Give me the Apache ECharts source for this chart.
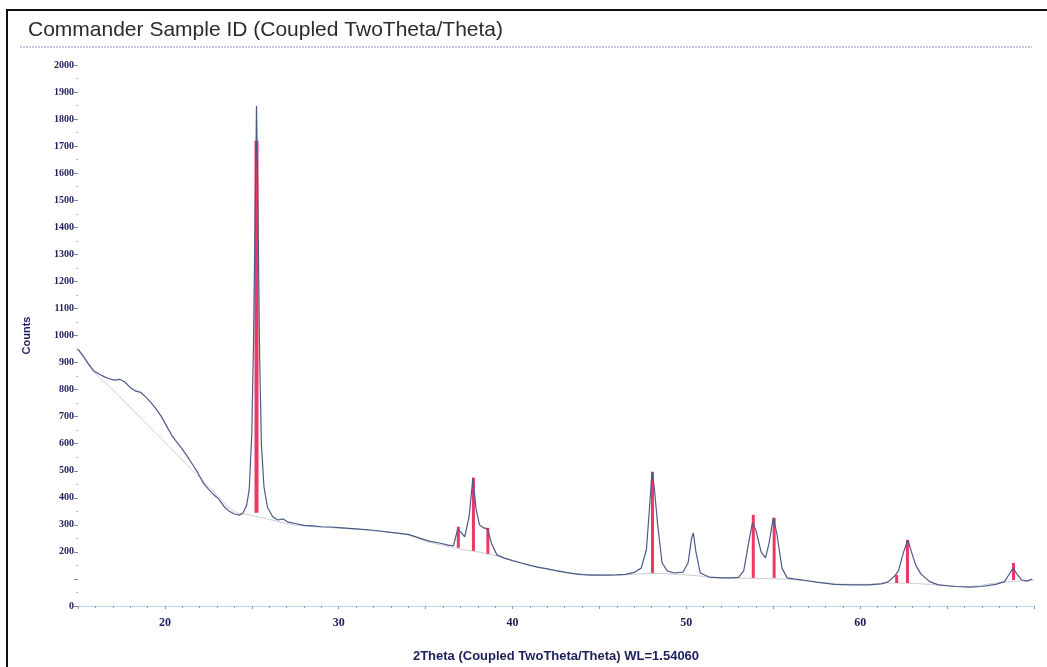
<!DOCTYPE html>
<html>
<head>
<meta charset="utf-8">
<script src="https://cdn.jsdelivr.net/npm/echarts@6/dist/echarts.min.js"></script>
<style>
  html, body { margin: 0; padding: 0; background: #fff; }
  #xrd { width: 1047px; height: 667px; }
</style>
</head>
<body>
<div id="xrd"></div>
<script>
// measured scan (2theta, counts)
var twoTheta = [15.0, 15.3, 15.6, 15.9, 16.2, 16.5, 16.8, 17.1, 17.4, 17.7, 18.0, 18.3, 18.6, 18.9, 19.2, 19.5, 19.8,
  20.1, 20.4, 20.7, 21.0, 21.3, 21.6, 21.9, 22.2, 22.5, 22.8, 23.1, 23.4, 23.7, 24.0, 24.3, 24.5, 24.7, 24.85,
  25.0, 25.1, 25.2, 25.27, 25.35, 25.45, 25.55, 25.7, 25.9, 26.2, 26.5, 26.8, 27.1, 27.5, 28.0, 28.5, 29.0, 29.5,
  30.0, 31.0, 32.0, 33.0, 34.0, 34.7, 35.2, 35.8, 36.3, 36.6, 36.85, 37.0, 37.25, 37.5, 37.72, 37.9, 38.1, 38.3,
  38.55, 38.8, 39.1, 39.5, 40.0, 40.5, 41.0, 41.5, 42.0, 42.5, 43.0, 43.5, 44.0, 44.5, 45.0, 45.5, 46.0, 46.5,
  47.0, 47.4, 47.7, 47.9, 48.02, 48.15, 48.35, 48.6, 48.9, 49.3, 49.8, 50.1, 50.3, 50.4, 50.55, 50.8, 51.3, 52.0,
  52.5, 53.0, 53.3, 53.6, 53.8, 54.0, 54.3, 54.55, 54.75, 55.0, 55.2, 55.5, 55.8, 56.2, 56.7, 57.5, 58.5, 59.5,
  60.5, 61.2, 61.6, 62.0, 62.2, 62.5, 62.75, 62.95, 63.2, 63.5, 64.0, 64.5, 65.5, 66.3, 67.0, 67.8, 68.3, 68.6,
  68.8, 69.0, 69.3, 69.6, 69.9];
var counts = [950, 925, 895, 870, 858, 848, 840, 835, 838, 828, 808, 795, 790, 772, 752, 728, 700,
  665, 630, 605, 580, 552, 522, 492, 456, 432, 412, 395, 368, 350, 340, 336, 345, 372, 430,
  640, 980, 1500, 1848, 1480, 920, 600, 440, 365, 330, 318, 322, 310, 305, 298, 296, 293, 292,
  290, 285, 280, 272, 265, 250, 240, 233, 225, 222, 285, 275, 256, 330, 474, 360, 300, 290,
  285, 230, 189, 178, 168, 159, 150, 143, 137, 131, 125, 120, 116, 114, 114, 114, 115, 117,
  124, 140, 207, 380, 496, 440, 300, 160, 130, 122, 125, 160, 250, 270, 200, 122, 107, 104,
  104, 106, 130, 240, 307, 280, 200, 178, 230, 326, 270, 140, 104, 100, 96, 88, 80, 78,
  78, 82, 89, 112, 130, 200, 244, 200, 150, 118, 90, 78, 72, 70, 72, 80, 90, 120,
  140, 120, 96, 92, 100];

// fitted background
var bgTheta = [15.0, 15.9, 17.0, 18.0, 19.0, 20.0, 21.0, 22.0, 23.0, 24.0, 25.0, 26.0, 27.0, 28.0, 30.0, 32.0,
  34.0, 35.0, 36.0, 37.0, 38.0, 39.0, 40.0, 42.0, 44.0, 46.0, 48.0, 50.0, 52.0, 54.0, 56.0, 58.0, 60.0,
  62.0, 64.0, 66.0, 68.0, 70.0];
var bgCounts = [948, 867, 800, 735, 670, 605, 540, 475, 410, 350, 335, 320, 305, 296, 288, 278,
  262, 240, 224, 210, 200, 186, 168, 137, 118, 115, 120, 115, 104, 102, 98, 85, 80,
  85, 80, 72, 86, 96];

// reference peak sticks
var stickPos = [25.27, 36.88, 37.75, 38.58, 48.05, 53.85, 55.05, 62.1, 62.72, 68.82];
var stickBase = [345, 215, 204, 193, 122, 104, 104, 85, 85, 96];
var stickTop = [1720, 293, 474, 289, 496, 337, 326, 115, 244, 159];

var scanData = twoTheta.map(function (t, i) { return [t, counts[i]]; });
var bgData = bgTheta.map(function (t, i) { return [t, bgCounts[i]]; });
var stickData = stickPos.map(function (t, i) { return [t, stickBase[i], stickTop[i]]; });

var chart = echarts.init(document.getElementById('xrd'));

var option = {
  animation: false,
  backgroundColor: '#fff',
  title: {
    text: 'Commander Sample ID (Coupled TwoTheta/Theta)',
    left: 23,
    top: 15,
    textStyle: { fontFamily: 'Liberation Sans', fontSize: 21, fontWeight: 'normal', color: '#2b2b2b' }
  },
  graphic: [
    { type: 'rect', shape: { x: 7, y: 10, width: 1100, height: 700 }, style: { fill: 'none', stroke: '#111', lineWidth: 2 }, silent: true },
    { type: 'line', shape: { x1: 20, y1: 47, x2: 1032, y2: 47 }, style: { stroke: '#8a93c8', lineWidth: 1, lineDash: [2, 1] }, silent: true }
  ],
  grid: { left: 78, right: 13, top: 65, bottom: 61, outerBoundsMode: 'none' },
  xAxis: {
    type: 'value',
    min: 15,
    max: 70,
    interval: 5,
    name: '2Theta (Coupled TwoTheta/Theta) WL=1.54060',
    nameLocation: 'middle',
    nameGap: 44,
    nameTextStyle: { fontFamily: 'Liberation Sans', fontSize: 13, fontWeight: 'bold', color: '#1c1f5a', letterSpacing: 1 },
    axisLine: { lineStyle: { color: '#a9cde6', type: 'dotted', width: 1 } },
    axisTick: { length: 3, lineStyle: { color: '#8b9bb8' } },
    minorTick: { show: true, splitNumber: 5, length: 2, lineStyle: { color: '#8b9bb8' } },
    axisLabel: {
      fontFamily: 'Liberation Serif', fontSize: 12, fontWeight: 'bold', color: '#1c1f5a', margin: 11,
      formatter: function (v) { return (v % 10 === 0 && v < 70) ? String(v) : ''; }
    },
    splitLine: { show: false }
  },
  yAxis: {
    type: 'value',
    min: 0,
    max: 2000,
    interval: 100,
    name: 'Counts',
    nameLocation: 'middle',
    nameGap: 46,
    nameRotate: 90,
    nameTextStyle: { fontFamily: 'Liberation Sans', fontSize: 11, fontWeight: 'bold', color: '#1c1f5a' },
    axisLine: { show: false },
    axisTick: { show: true, length: 4, lineStyle: { color: '#7f8aa8' } },
    minorTick: { show: true, splitNumber: 2, length: 2, lineStyle: { color: '#b0b8cc' } },
    axisLabel: {
      fontFamily: 'Liberation Serif', fontSize: 10, fontWeight: 'bold', color: '#1c1f5a', margin: 4,
      formatter: function (v) { return v === 100 ? '' : String(v); }
    },
    splitLine: { show: false }
  },
  series: [
    {
      name: 'Background',
      type: 'line',
      data: bgData,
      showSymbol: false,
      smooth: true,
      lineStyle: { color: '#c9ccd2', width: 1 },
      z: 1
    },
    {
      name: 'Sticks',
      type: 'custom',
      data: stickData,
      renderItem: function (params, api) {
        var p0 = api.coord([api.value(0), api.value(1)]);
        var p1 = api.coord([api.value(0), api.value(2)]);
        return {
          type: 'line',
          shape: { x1: p0[0], y1: p0[1], x2: p1[0], y2: p1[1] },
          style: { stroke: '#ee3763', lineWidth: params.dataIndex === 0 ? 4 : 3 }
        };
      },
      z: 2
    },
    {
      name: 'Scan',
      type: 'line',
      data: scanData,
      showSymbol: false,
      lineStyle: { color: '#4c5a88', width: 1.2 },
      z: 3
    }
  ]
};

chart.setOption(option);

window.addEventListener('resize', function () {
  chart.resize();
});
</script>
</body>
</html>
